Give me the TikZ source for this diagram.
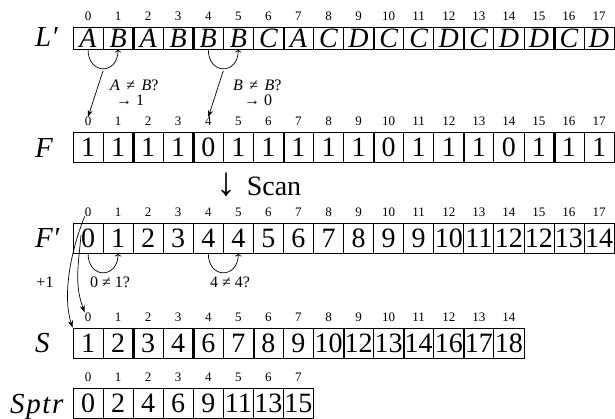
\documentclass[tikz,border=0pt]{standalone}
\usepackage{fontspec}
\setmainfont{Liberation Serif}
\usetikzlibrary{arrows.meta,positioning}

\begin{document}
\begin{tikzpicture}[x=1pt,y=1pt,>=To,
  cell/.style={draw,line width=.8pt,minimum width=30.06pt,minimum height=30pt,inner sep=0pt,font=\fontsize{28}{28}\selectfont},
  flat/.style={cell,minimum height=22pt},
  idx/.style={inner sep=0pt,font=\fontsize{13}{13}\selectfont},
  rowlab/.style={anchor=base west,inner sep=0pt,font=\fontsize{29}{29}\selectfont\itshape},
  sep/.style={line width=2.4pt},
  note/.style={inner sep=0pt,font=\fontsize{16}{16}\selectfont},
  hop/.style={->,line width=.7pt,out=-90,in=-90,looseness=2.2},
  fall/.style={-{Stealth[length=7pt,width=5pt]},line width=.7pt}]
\useasboundingbox (0,0) rectangle (615,419);
\foreach \v [count=\i from 0] in {A,B,A,B,B,B,C,A,C,D,C,C,D,C,D,D,C,D}{\node[flat] (L\i) at ({88.03+30.06*\i},381) {\itshape\v};\node[idx,above=6pt of L\i] (Li\i) {\i};}
\foreach \v [count=\i from 0] in {1,1,1,1,0,1,1,1,1,1,0,1,1,1,0,1,1,1}{\node[cell] (F\i) at ({88.03+30.06*\i},271.5) {\v};\node[idx,above=6pt of F\i] (Fi\i) {\i};}
\foreach \v [count=\i from 0] in {0,1,2,3,4,4,5,6,7,8,9,9,10,11,12,12,13,14}{\node[cell] (Fp\i) at ({88.03+30.06*\i},181) {\v};\node[idx,above=6pt of Fp\i] (Fpi\i) {\i};}
\foreach \v [count=\i from 0] in {1,2,3,4,6,7,8,9,10,12,13,14,16,17,18}{\node[cell] (S\i) at ({88.03+30.06*\i},76) {\v};\node[idx,above=6pt of S\i] (Si\i) {\i};}
\foreach \v [count=\i from 0] in {0,2,4,6,9,11,13,15}{\node[cell] (P\i) at ({88.03+30.06*\i},15.5) {\v};\node[idx,above=6pt of P\i] (Pi\i) {\i};}
\foreach \i in {1,3,6,9,12,15}{\draw[sep] (L\i.north east) -- (L\i.south east);\draw[sep] (F\i.north east) -- (F\i.south east);}
\foreach \i in {1,3,5,8,10,12}\draw[sep] (S\i.north east) -- (S\i.south east);
\node[rowlab] (nL) at (35,372) {L′};\node[rowlab] (nF) at (35,261.9) {F};\node[rowlab] (nFp) at (35,171.4) {F′};
\node[rowlab] (nS) at (35,66.4) {S};\node[rowlab] (nP) at (10,5.9) {S\kern1.6pt p\kern1.6pt t\kern1.6pt r};
\draw[hop] (L0.south) to coordinate[pos=.5] (m0) (L1.south);\draw[hop] (L4.south) to coordinate[pos=.5] (m4) (L5.south);
\draw[fall] ([yshift=-2pt]m0) -- (Fi0.north);\draw[fall] ([yshift=-2pt]m4) -- (Fi4.north);
\node[note,anchor=west] (q0) at (110,334) {\textit{A}\hspace{.4em}≠\hspace{.4em}\textit{B}?};\node[note,anchor=west] (r0) at (116,319) {→ 1};
\node[note,anchor=west] (q4) at (233,334) {\textit{B}\hspace{.4em}≠\hspace{.4em}\textit{B}?};\node[note,anchor=west] (r4) at (244,319) {→ 0};
\node[font=\fontsize{28}{28}\selectfont] (scan) at (259,234) {{\fontsize{40}{40}\selectfont↓}\hspace{10pt}Scan};
\draw[hop] (Fp0.south) to (Fp1.south);\draw[hop] (Fp4.south) to (Fp5.south);
\node[note] (q1) at (110,137) {0 ≠ 1?};\node[note] (q5) at (230,137) {4 ≠ 4?};\node[note] (plus) at (45,137) {+1};
\draw[fall] (Fpi0.south west) to[out=248,in=108,looseness=.8] (S0.north west);
\draw[fall] ([shift={(-7pt,3pt)}]Fp0.center) to[out=265,in=110] (Si0.north west);
\end{tikzpicture}
\end{document}
